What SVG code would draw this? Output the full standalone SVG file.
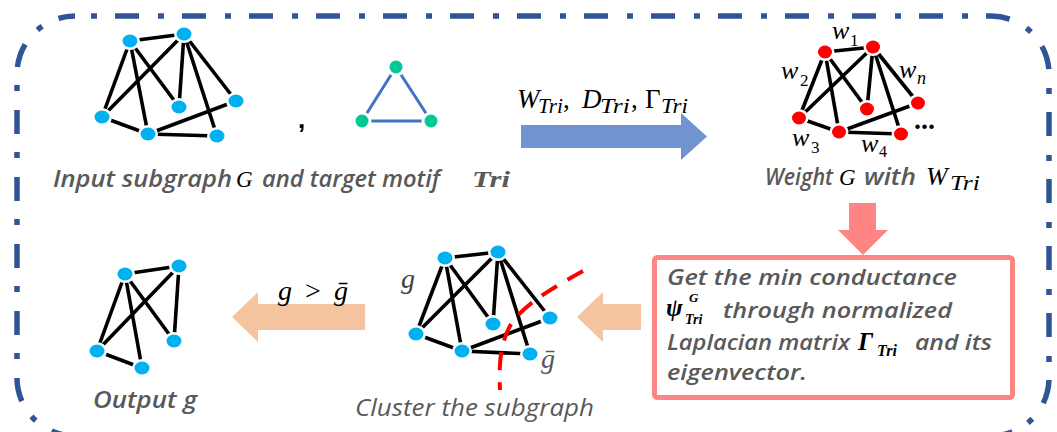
<svg xmlns="http://www.w3.org/2000/svg" width="1057" height="432" viewBox="0 0 1057 432">
<style>
.e{stroke:#000;stroke-width:3.6;fill:none}
.nb{fill:#00B0F0;stroke:#fff;stroke-width:5;paint-order:stroke}
.nr{fill:#FF0000;stroke:#fff;stroke-width:5;paint-order:stroke}
.ng{fill:#00C896;stroke:#fff;stroke-width:6;paint-order:stroke}
.cap{font-family:"Open Sans","Noto Sans",sans-serif;font-style:italic;font-weight:600;fill:#595959;font-size:23px}
.bx{font-family:"Open Sans","Noto Sans",sans-serif;font-style:italic;font-weight:600;fill:#595959;font-size:22px}
.m{font-family:"Liberation Serif","DejaVu Serif",serif;font-style:italic;fill:#000}
.mb{font-family:"Liberation Serif","DejaVu Serif",serif;font-style:italic;font-weight:bold;fill:#000}
.up{font-style:normal}
</style>

<g id="border">
<rect x="17" y="16" width="1032" height="420" rx="58" fill="none" stroke="#2F5597" stroke-width="5.5" stroke-dasharray="24 19 6 18" stroke-dashoffset="27"/>
</g>

<g id="input-graph">
<g class="e">
<line x1="130" y1="41" x2="184" y2="34"/>
<line x1="130" y1="41" x2="102" y2="117"/>
<line x1="130" y1="41" x2="148" y2="134"/>
<line x1="130" y1="41" x2="179" y2="107"/>
<line x1="184" y1="34" x2="102" y2="117"/>
<line x1="184" y1="34" x2="179" y2="107"/>
<line x1="184" y1="34" x2="217" y2="136"/>
<line x1="184" y1="34" x2="236" y2="101"/>
<line x1="102" y1="117" x2="148" y2="134"/>
<line x1="148" y1="134" x2="236" y2="101"/>
<line x1="148" y1="134" x2="217" y2="136"/>
</g>
<ellipse class="nb" cx="130" cy="41" rx="7.5" ry="6.5"/>
<ellipse class="nb" cx="184" cy="34" rx="7.5" ry="6.5"/>
<ellipse class="nb" cx="179" cy="107" rx="7.5" ry="6.5"/>
<ellipse class="nb" cx="236" cy="101" rx="7.5" ry="6.5"/>
<ellipse class="nb" cx="102" cy="117" rx="7.5" ry="6.5"/>
<ellipse class="nb" cx="148" cy="134" rx="7.5" ry="6.5"/>
<ellipse class="nb" cx="217" cy="136" rx="7.5" ry="6.5"/>
<text x="298" y="128" font-family="Liberation Sans,sans-serif" font-weight="bold" font-size="26" fill="#000">,</text>
</g>

<g id="motif">
<polygon points="396,67 362,121 431,121" fill="none" stroke="#4472C4" stroke-width="3"/>
<circle class="ng" cx="396" cy="67" r="6.5"/>
<circle class="ng" cx="362" cy="121" r="6.5"/>
<circle class="ng" cx="431" cy="121" r="6.5"/>
</g>

<g id="input-label">
<text class="cap" x="53" y="187" textLength="179" lengthAdjust="spacingAndGlyphs">Input subgraph</text>
<text class="m" x="236" y="187" font-size="23">G</text>
<text class="cap" x="262" y="187" textLength="178" lengthAdjust="spacingAndGlyphs">and target motif</text>
<text class="mb" x="472" y="187" font-size="24" style="fill:#595959" textLength="38" lengthAdjust="spacingAndGlyphs">Tri</text>
</g>

<g id="weighted-graph">
<g class="e">
<line x1="825" y1="52" x2="873" y2="47"/>
<line x1="825" y1="52" x2="799" y2="118"/>
<line x1="825" y1="52" x2="839" y2="132"/>
<line x1="825" y1="52" x2="867" y2="109"/>
<line x1="873" y1="47" x2="799" y2="118"/>
<line x1="873" y1="47" x2="867" y2="109"/>
<line x1="873" y1="47" x2="901" y2="134"/>
<line x1="873" y1="47" x2="918" y2="103"/>
<line x1="799" y1="118" x2="839" y2="132"/>
<line x1="839" y1="132" x2="918" y2="103"/>
<line x1="839" y1="132" x2="901" y2="134"/>
</g>
<ellipse class="nr" cx="825" cy="52" rx="7" ry="6.5"/>
<ellipse class="nr" cx="873" cy="47" rx="7" ry="6.5"/>
<ellipse class="nr" cx="867" cy="109" rx="7" ry="6.5"/>
<ellipse class="nr" cx="918" cy="103" rx="7" ry="6.5"/>
<ellipse class="nr" cx="799" cy="118" rx="7" ry="6.5"/>
<ellipse class="nr" cx="839" cy="132" rx="7" ry="6.5"/>
<ellipse class="nr" cx="901" cy="134" rx="7" ry="6.5"/>
<text class="m" font-size="26" x="832" y="39">w</text><text class="m up" font-size="17" x="850" y="46">1</text>
<text class="m" font-size="26" x="781" y="79">w</text><text class="m up" font-size="17" x="800" y="86">2</text>
<text class="m" font-size="26" x="899" y="78">w</text><text class="m" font-size="18" x="917" y="84">n</text>
<text class="m" font-size="26" x="792" y="146">w</text><text class="m up" font-size="17" x="811" y="153">3</text>
<text class="m" font-size="26" x="861" y="152">w</text><text class="m up" font-size="16" x="879" y="157">4</text>
<text x="914" y="129" font-family="Liberation Serif,serif" font-weight="bold" font-size="28" fill="#000">...</text>
<text class="cap" x="765" y="185" textLength="68" lengthAdjust="spacingAndGlyphs">Weight</text>
<text class="m" x="839" y="185" font-size="23">G</text>
<text class="cap" x="864" y="185" textLength="52" lengthAdjust="spacingAndGlyphs">with</text>
<text class="m" x="926" y="185" font-size="26">W</text>
<text class="m" x="950" y="190" font-size="21" textLength="30" lengthAdjust="spacingAndGlyphs">Tri</text>
</g>

<g id="conductance-box">
<rect x="654.5" y="257.5" width="358" height="140" rx="3" fill="#fff" stroke="#FF8585" stroke-width="5"/>
<text class="bx" x="667" y="285" textLength="290" lengthAdjust="spacingAndGlyphs">Get the min conductance</text>
<text class="mb" x="666" y="316" font-size="25">ψ</text>
<text class="mb" x="689" y="302" font-size="13">G</text>
<text class="mb" x="685" y="324" font-size="14">Tri</text>
<text class="bx" x="723" y="318" textLength="229" lengthAdjust="spacingAndGlyphs">through normalized</text>
<text class="bx" x="667" y="350" textLength="183" lengthAdjust="spacingAndGlyphs">Laplacian matrix</text>
<text class="mb" x="858" y="350" font-size="25">Γ</text>
<text class="mb" x="877" y="356" font-size="16">Tri</text>
<text class="bx" x="915" y="350" textLength="77" lengthAdjust="spacingAndGlyphs">and its</text>
<text class="bx" x="667" y="380" textLength="140" lengthAdjust="spacingAndGlyphs">eigenvector.</text>
</g>

<g id="cluster-graph">
<g class="e">
<line x1="445" y1="258" x2="498" y2="252"/>
<line x1="445" y1="258" x2="416" y2="334"/>
<line x1="445" y1="258" x2="462" y2="351"/>
<line x1="445" y1="258" x2="493" y2="324"/>
<line x1="498" y1="252" x2="416" y2="334"/>
<line x1="498" y1="252" x2="493" y2="324"/>
<line x1="498" y1="252" x2="530" y2="354"/>
<line x1="498" y1="252" x2="550" y2="318"/>
<line x1="416" y1="334" x2="462" y2="351"/>
<line x1="462" y1="351" x2="550" y2="318"/>
<line x1="462" y1="351" x2="530" y2="354"/>
</g>
<path d="M583,271 C556,286 522,305 510,326 C499,346 499,370 500,390" fill="none" stroke="#FF0000" stroke-width="4" stroke-dasharray="18 12"/>
<ellipse class="nb" cx="445" cy="258" rx="7.5" ry="6.5"/>
<ellipse class="nb" cx="498" cy="252" rx="7.5" ry="6.5"/>
<ellipse class="nb" cx="493" cy="324" rx="7.5" ry="6.5"/>
<ellipse class="nb" cx="550" cy="318" rx="7.5" ry="6.5"/>
<ellipse class="nb" cx="416" cy="334" rx="7.5" ry="6.5"/>
<ellipse class="nb" cx="462" cy="351" rx="7.5" ry="6.5"/>
<ellipse class="nb" cx="530" cy="354" rx="7.5" ry="6.5"/>
<text class="m" x="401" y="288" font-size="28" style="fill:#404040">g</text>
<text class="m" x="541" y="368" font-size="28" style="fill:#595959">ḡ</text>
<text class="cap" x="355" y="416" style="font-weight:500" textLength="239" lengthAdjust="spacingAndGlyphs">Cluster the subgraph</text>
</g>

<g id="output-graph">
<g class="e">
<line x1="125" y1="274" x2="179" y2="266"/>
<line x1="125" y1="274" x2="97" y2="351"/>
<line x1="125" y1="274" x2="142" y2="368"/>
<line x1="125" y1="274" x2="174" y2="341"/>
<line x1="179" y1="266" x2="97" y2="351"/>
<line x1="179" y1="266" x2="174" y2="341"/>
<line x1="97" y1="351" x2="142" y2="368"/>
</g>
<ellipse class="nb" cx="125" cy="274" rx="7.5" ry="6.5"/>
<ellipse class="nb" cx="179" cy="266" rx="7.5" ry="6.5"/>
<ellipse class="nb" cx="174" cy="341" rx="7.5" ry="6.5"/>
<ellipse class="nb" cx="97" cy="351" rx="7.5" ry="6.5"/>
<ellipse class="nb" cx="142" cy="368" rx="7.5" ry="6.5"/>
<text class="cap" x="93" y="408" textLength="104" lengthAdjust="spacingAndGlyphs">Output g</text>
</g>

<g id="connectors">
<polygon points="521,125 681,125 681,113 707,136.5 681,160 681,148 521,148" fill="#7094D0"/>
<g class="m">
<text x="517" y="108" font-size="27">W</text>
<text x="538" y="113" font-size="20" textLength="25" lengthAdjust="spacingAndGlyphs">Tri</text>
<text x="563" y="108" font-size="27" class="up">,</text>
<text x="582" y="108" font-size="27">D</text>
<text x="600" y="113" font-size="20" textLength="30" lengthAdjust="spacingAndGlyphs">Tri</text>
<text x="631" y="108" font-size="27" class="up">,</text>
<text x="645" y="108" font-size="27" class="up">Γ</text>
<text x="661" y="113" font-size="20" textLength="27" lengthAdjust="spacingAndGlyphs">Tri</text>
</g>
<polygon points="849,203 876,203 876,230 888,230 863,255 838,230 849,230" fill="#FF8585"/>
<polygon points="641,304 603,304 603,292 577,317 603,342 603,330 641,330" fill="#F4C3A0"/>
<polygon points="365,304 258,304 258,292 232,317 258,342 258,330 365,330" fill="#F4C3A0"/>
<text class="m" x="278" y="300" font-size="28" textLength="70" lengthAdjust="spacing">g<tspan class="up"> &gt; </tspan>ḡ</text>
</g>
</svg>
